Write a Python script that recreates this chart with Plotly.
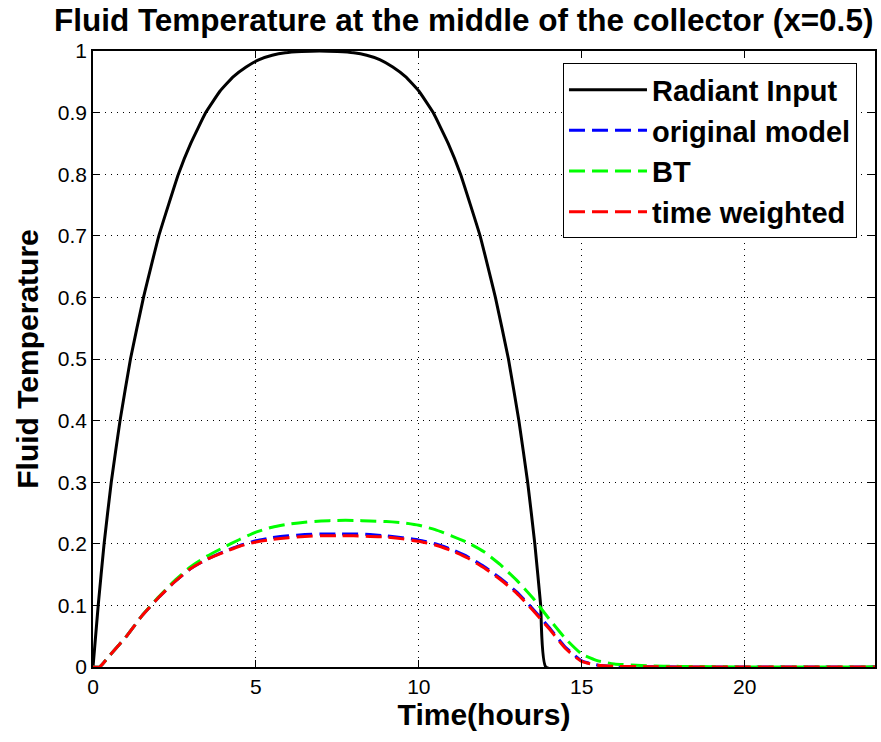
import plotly.graph_objects as go

# ---------------- data ----------------
t_rad = [0, 0.16, 0.34, 0.56, 0.83, 1.15, 1.55, 2.02, 2.62, 3.0, 3.46, 3.9, 4.3, 4.7,
         5.1, 5.5, 5.9, 6.4, 6.95, 7.5, 8.0, 8.4, 8.8, 9.2, 9.6, 10.0, 10.44, 10.9,
         11.28, 11.88, 12.35, 12.75, 13.07, 13.34, 13.56, 13.74, 13.9, 24]
radiant = [0, 0.1, 0.2, 0.3, 0.4, 0.5, 0.6, 0.7, 0.8, 0.85, 0.9, 0.935, 0.958, 0.974,
           0.986, 0.993, 0.997, 0.999, 1.0, 0.999, 0.997, 0.993, 0.986, 0.974, 0.958,
           0.935, 0.9, 0.85, 0.8, 0.7, 0.6, 0.5, 0.4, 0.3, 0.2, 0.1, 0, 0]

t_sim = [0, 0.2, 0.5, 1, 1.5, 2, 2.5, 3, 3.5, 4, 4.5, 5, 5.5, 6, 6.5, 7, 7.5, 8, 8.5,
         9, 9.5, 10, 10.5, 11, 11.5, 12, 12.5, 13, 13.5, 14, 14.5, 15, 15.5, 16,
         17, 18, 20, 22, 24]
original_model = [0, 0.0, 0.018, 0.048, 0.083, 0.112, 0.138, 0.16, 0.175, 0.187, 0.197,
                  0.205, 0.21, 0.213, 0.215, 0.216, 0.216, 0.216, 0.215, 0.213, 0.21,
                  0.206, 0.2, 0.191, 0.179, 0.163, 0.144, 0.122, 0.094, 0.064, 0.032,
                  0.01, 0.003, 0.001, 0.0005, 0, 0, 0, 0]
bt = [0, 0.0, 0.018, 0.048, 0.083, 0.113, 0.14, 0.163, 0.18, 0.194, 0.207, 0.219,
      0.227, 0.232, 0.235, 0.237, 0.238, 0.238, 0.237, 0.236, 0.234, 0.23, 0.223,
      0.213, 0.202, 0.187, 0.166, 0.141, 0.112, 0.078, 0.046, 0.021, 0.01, 0.005,
      0.002, 0.001, 0, 0, 0]
time_weighted = [0, 0.0, 0.018, 0.048, 0.083, 0.112, 0.138, 0.16, 0.175, 0.186, 0.196,
                 0.203, 0.207, 0.21, 0.212, 0.213, 0.213, 0.213, 0.212, 0.211, 0.208,
                 0.204, 0.198, 0.189, 0.177, 0.161, 0.142, 0.12, 0.092, 0.062, 0.03,
                 0.009, 0.003, 0.001, 0.0005, 0, 0, 0, 0]

series_names = ["Radiant Input", "original model", "BT", "time weighted"]
x_ticks = [0, 5, 10, 15, 20]
y_ticks = [0, 0.1, 0.2, 0.3, 0.4, 0.5, 0.6, 0.7, 0.8, 0.9, 1]
y_tick_text = ["0", "0.1", "0.2", "0.3", "0.4", "0.5", "0.6", "0.7", "0.8", "0.9", "1"]

title_text = "Fluid Temperature at the middle of the collector (x=0.5)"
x_label = "Time(hours)"
y_label = "Fluid Temperature"

# ---------------- figure ----------------
FONT = "Liberation Sans, Arial, Helvetica, sans-serif"
DASH = "16px,7px"

fig = go.Figure()
fig.add_trace(go.Scatter(x=t_rad, y=radiant, mode="lines", name=series_names[0],
                         line=dict(color="#000000", width=3, shape="spline", smoothing=0.3)))
fig.add_trace(go.Scatter(x=t_sim, y=original_model, mode="lines", name=series_names[1],
                         line=dict(color="#0000FF", width=3, dash=DASH, shape="spline", smoothing=0.5)))
fig.add_trace(go.Scatter(x=t_sim, y=bt, mode="lines", name=series_names[2],
                         line=dict(color="#00FF00", width=3, dash=DASH, shape="spline", smoothing=0.5)))
fig.add_trace(go.Scatter(x=t_sim, y=time_weighted, mode="lines", name=series_names[3],
                         line=dict(color="#FF0000", width=3, dash=DASH, shape="spline", smoothing=0.5)))

axis_common = dict(
    showline=True, linecolor="#000000", linewidth=1.5, mirror="allticks",
    ticks="inside", ticklen=7, tickwidth=1, tickcolor="#000000",
    showgrid=True, gridcolor="#000000", gridwidth=1, griddash="1px,5px",
    zeroline=False,
    tickfont=dict(family=FONT, size=21, color="#000000"),
)

fig.update_layout(
    width=881, height=742,
    margin=dict(l=93, r=4, t=51, b=75),
    paper_bgcolor="#FFFFFF", plot_bgcolor="#FFFFFF",
    font=dict(family=FONT, color="#000000"),
    title=dict(text="<b>" + title_text + "</b>", x=0.474, xref="paper", xanchor="center",
               y=1 - 20 / 742, yref="container", yanchor="middle",
               font=dict(family=FONT, size=31.5, color="#000000")),
    xaxis=dict(range=[0, 24], tickmode="array", tickvals=x_ticks,
               title=dict(text="<b>" + x_label + "</b>", standoff=4,
                          font=dict(family=FONT, size=30, color="#000000")),
               **axis_common),
    yaxis=dict(range=[0, 1], tickmode="array", tickvals=y_ticks, ticktext=y_tick_text,
               title=dict(text="<b>" + y_label + "</b>", standoff=10,
                          font=dict(family=FONT, size=30, color="#000000")),
               **axis_common),
    showlegend=True,
    legend=dict(x=0.601, y=0.98, xanchor="left", yanchor="top",
                bgcolor="#FFFFFF", bordercolor="#000000", borderwidth=1,
                itemwidth=78, tracegroupgap=0,
                font=dict(family=FONT, size=29, color="#000000", weight="bold")),
)

fig.write_html("out.html")
